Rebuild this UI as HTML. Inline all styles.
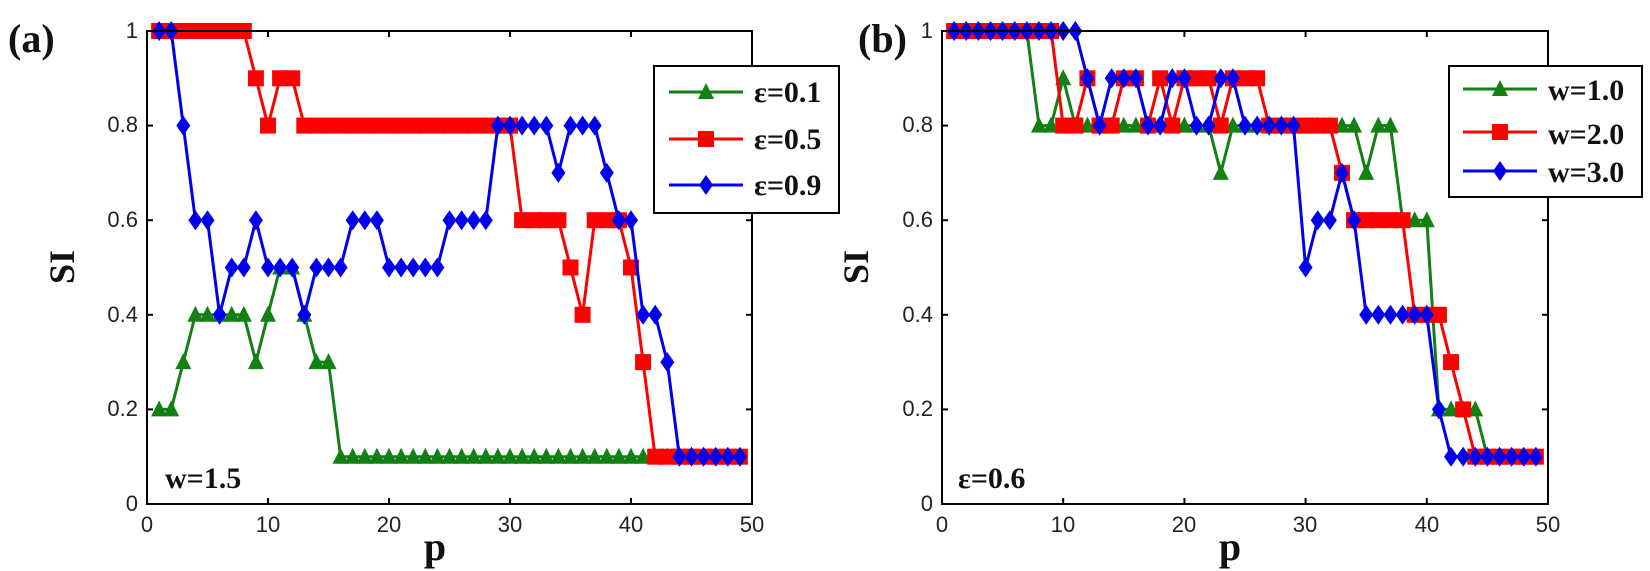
<!DOCTYPE html>
<html><head><meta charset="utf-8"><style>
html,body{margin:0;padding:0;background:#fff;}
svg{display:block;}
.tk{font-family:"Liberation Sans",Arial,sans-serif;font-size:22px;fill:#222;}
.bs{font-family:"Liberation Serif",serif;font-weight:bold;fill:#111;}
</style></head><body>
<svg id="s" width="1650" height="571" viewBox="0 0 1650 571" xmlns="http://www.w3.org/2000/svg">
<text class="bs" x="8" y="52" font-size="40">(a)</text>
<text class="bs" x="858" y="52" font-size="40">(b)</text>
<text class="bs" transform="translate(74,267) rotate(-90)" font-size="36" text-anchor="middle">SI</text>
<text class="bs" transform="translate(868,267) rotate(-90)" font-size="36" text-anchor="middle">SI</text>
<text class="bs" x="435" y="560" font-size="40" text-anchor="middle">p</text>
<text class="bs" x="1230" y="560" font-size="40" text-anchor="middle">p</text>
<text class="bs" x="165" y="488" font-size="30">w=1.5</text>
<text class="bs" x="958" y="488" font-size="30">ε=0.6</text>
<g id="A"></g><g id="B"></g>
<g id="LA">
<rect x="654" y="66" width="185" height="147" fill="#fff" stroke="#000" stroke-width="2"/>
<text class="bs" x="754" y="102" font-size="30">ε=0.1</text>
<text class="bs" x="754" y="149" font-size="30">ε=0.5</text>
<text class="bs" x="754" y="195" font-size="30">ε=0.9</text>
</g>
<g id="LB">
<rect x="1449" y="66" width="193" height="131" fill="#fff" stroke="#000" stroke-width="2"/>
<text class="bs" x="1548" y="100" font-size="30">w=1.0</text>
<text class="bs" x="1548" y="144" font-size="30">w=2.0</text>
<text class="bs" x="1548" y="182" font-size="30">w=3.0</text>
</g>
<g id="T">
<text class="tk" x="138" y="511" text-anchor="end">0</text>
<text class="tk" x="138" y="416" text-anchor="end">0.2</text>
<text class="tk" x="138" y="322" text-anchor="end">0.4</text>
<text class="tk" x="138" y="227" text-anchor="end">0.6</text>
<text class="tk" x="138" y="132" text-anchor="end">0.8</text>
<text class="tk" x="138" y="38" text-anchor="end">1</text>
<text class="tk" x="147" y="532" text-anchor="middle">0</text>
<text class="tk" x="268" y="532" text-anchor="middle">10</text>
<text class="tk" x="389" y="532" text-anchor="middle">20</text>
<text class="tk" x="510" y="532" text-anchor="middle">30</text>
<text class="tk" x="631" y="532" text-anchor="middle">40</text>
<text class="tk" x="752" y="532" text-anchor="middle">50</text>
<text class="tk" x="933" y="511" text-anchor="end">0</text>
<text class="tk" x="933" y="416" text-anchor="end">0.2</text>
<text class="tk" x="933" y="322" text-anchor="end">0.4</text>
<text class="tk" x="933" y="227" text-anchor="end">0.6</text>
<text class="tk" x="933" y="132" text-anchor="end">0.8</text>
<text class="tk" x="933" y="38" text-anchor="end">1</text>
<text class="tk" x="942" y="532" text-anchor="middle">0</text>
<text class="tk" x="1063" y="532" text-anchor="middle">10</text>
<text class="tk" x="1184" y="532" text-anchor="middle">20</text>
<text class="tk" x="1305" y="532" text-anchor="middle">30</text>
<text class="tk" x="1427" y="532" text-anchor="middle">40</text>
<text class="tk" x="1548" y="532" text-anchor="middle">50</text>
</g>
</svg>
<script>
var NS="http://www.w3.org/2000/svg";
function el(p,t,a){var e=document.createElementNS(NS,t);for(var k in a)e.setAttribute(k,a[k]);p.appendChild(e);return e;}
var C={g:"#138013",r:"#ff0000",b:"#0000ee"};
function mk(g,type,x,y,c){
 if(type=="t")el(g,"polygon",{points:(x-8)+","+(y+7)+" "+(x+8)+","+(y+7)+" "+x+","+(y-9),fill:c});
 else if(type=="s")el(g,"rect",{x:x-8,y:y-8,width:16,height:16,fill:c});
 else el(g,"polygon",{points:x+","+(y-10)+" "+(x+7)+","+y+" "+x+","+(y+10)+" "+(x-7)+","+y,fill:c});
}
function expand(s){var o=[];s.split(" ").forEach(function(t){var m=t.split("x");var n=m.length>1?+m[1]:1;for(var i=0;i<n;i++)o.push(+m[0]);});return o;}
function panel(gid,x0,x1,series,lg){
 var g=document.getElementById(gid);var y0=504,y1=31,sx=(x1-x0)/50,sy=(y0-y1);
 series.forEach(function(S){var d=expand(S[2]);var pts=d.map(function(v,i){return (x0+(i+1)*sx).toFixed(1)+","+(y0-v*sy).toFixed(1);});
  el(g,"polyline",{points:pts.join(" "),fill:"none",stroke:C[S[0]],"stroke-width":3});
  d.forEach(function(v,i){mk(g,S[1],x0+(i+1)*sx,y0-v*sy,C[S[0]]);});});
 el(g,"rect",{x:x0,y:y1,width:x1-x0,height:y0-y1,fill:"none",stroke:"#000","stroke-width":2});
 for(var i=0;i<=5;i++){var x=x0+i*10*sx;el(g,"line",{x1:x,y1:y0,x2:x,y2:y0-6,stroke:"#000","stroke-width":2});el(g,"line",{x1:x,y1:y1,x2:x,y2:y1+6,stroke:"#000","stroke-width":2});
  var y=y0-i*0.2*sy;el(g,"line",{x1:x0,y1:y,x2:x0+6,y2:y,stroke:"#000","stroke-width":2});el(g,"line",{x1:x1,y1:y,x2:x1-6,y2:y,stroke:"#000","stroke-width":2});}
 var L=document.getElementById(lg.id);
 series.forEach(function(S,i){var y=lg.ys[i];el(L,"line",{x1:lg.a,y1:y,x2:lg.b,y2:y,stroke:C[S[0]],"stroke-width":3});mk(L,S[1],(lg.a+lg.b)/2,y,C[S[0]]);});
}
panel("A",147,752,[
 ["g","t",".2x2 .3 .4x5 .3 .4 .5 .5 .4 .3 .3 .1x34"],
 ["r","s","1x8 .9 .8 .9 .9 .8x18 .6x4 .5 .4 .6x3 .5 .3 .1x8"],
 ["b","d","1 1 .8 .6 .6 .4 .5 .5 .6 .5 .5 .5 .4 .5 .5 .5 .6 .6 .6 .5x5 .6x4 .8x5 .7 .8 .8 .8 .7 .6 .6 .4 .4 .3 .1x6"]
],{id:"LA",a:669,b:743,ys:[92,139,185]});
panel("B",942,1548,[
 ["g","t","1x7 .8 .8 .9 .8x12 .7 .8x11 .7 .8 .8 .6x3 .2x4 .1x4"],
 ["r","s","1x9 .8 .8 .9 .8 .8 .9 .9 .8 .9 .8 .9 .9 .9 .8 .9 .9 .9 .8x6 .7 .6x5 .4x3 .3 .2 .1x6"],
 ["b","d","1x11 .9 .8 .9 .9 .9 .8 .8 .9 .9 .8 .8 .9 .9 .8x5 .5 .6 .6 .7 .6 .4x6 .2 .1x8"]
],{id:"LB",a:1463,b:1537,ys:[89,132,171]});
var s=document.getElementById("s");s.appendChild(document.getElementById("LA"));s.appendChild(document.getElementById("LB"));
</script>
</body></html>
